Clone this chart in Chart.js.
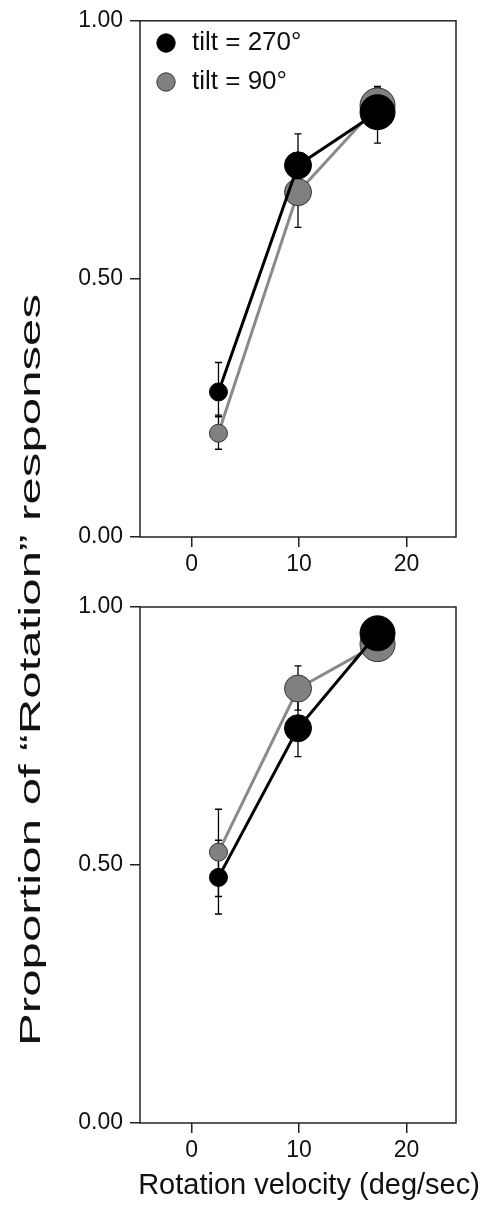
<!DOCTYPE html>
<html>
<head>
<meta charset="utf-8">
<script src="https://cdn.jsdelivr.net/npm/chart.js@4.4.0/dist/chart.umd.min.js"></script>
<style>
html, body { margin: 0; padding: 0; background: #fff; }
body { width: 483px; height: 1207px; position: relative; overflow: hidden; font-family: 'Liberation Sans', Arial, sans-serif; }
#topChart { position: absolute; left: 0; top: 0; }
#bottomChart { position: absolute; left: 0; top: 575px; }
#ylabel { position: absolute; left: 30px; top: 670px; transform: translate(-50%, -50%) rotate(-90deg) scaleX(1.64); white-space: nowrap; font-size: 30px; color: #111; }
#xlabel { position: absolute; left: 309px; top: 1184px; transform: translate(-50%, -50%); white-space: nowrap; font-size: 29px; color: #111; }
</style>
</head>
<body>
<canvas id="topChart" width="483" height="575"></canvas>
<canvas id="bottomChart" width="483" height="632"></canvas>
<div id="ylabel">Proportion of “Rotation” responses</div>
<div id="xlabel">Rotation velocity (deg/sec)</div>
<script>
const velocity = [2.5, 9.9, 17.3];
const seriesLabels = ['tilt = 270°', 'tilt = 90°'];
const xTicks = [0, 10, 20];
const yTicks = [0, 0.5, 1];

// upper panel
const upper270 = [0.281, 0.720, 0.823];
const upper270Lo = [0.233, 0.659, 0.763];
const upper270Hi = [0.338, 0.781, 0.870];
const upper90 = [0.201, 0.668, 0.836];
const upper90Lo = [0.170, 0.600, 0.800];
const upper90Hi = [0.236, 0.736, 0.873];

// lower panel
const lower270 = [0.476, 0.765, 0.949];
const lower270Lo = [0.405, 0.710, 0.920];
const lower270Hi = [0.548, 0.820, 0.978];
const lower90 = [0.525, 0.842, 0.928];
const lower90Lo = [0.439, 0.800, 0.900];
const lower90Hi = [0.608, 0.886, 0.955];

const markerRadius = [9, 13.5, 17.5];

const framePlugin = {
    id: 'frame',
    beforeDatasetsDraw(chart) {
        const a = chart.chartArea;
        const ctx = chart.ctx;
        ctx.save();
        ctx.strokeStyle = '#222';
        ctx.lineWidth = 1.5;
        ctx.strokeRect(a.left, a.top, a.right - a.left, a.bottom - a.top);
        ctx.restore();
    }
};

const errorBarPlugin = {
    id: 'errorBars',
    beforeDatasetsDraw(chart, args, opts) {
        const ctx = chart.ctx;
        const yScale = chart.scales.y;
        ctx.save();
        ctx.strokeStyle = '#000';
        ctx.lineWidth = 1.3;
        chart.data.datasets.forEach((ds, d) => {
            const meta = chart.getDatasetMeta(d);
            meta.data.forEach((pt, i) => {
                const top = yScale.getPixelForValue(opts.hi[d][i]);
                const bot = yScale.getPixelForValue(opts.lo[d][i]);
                ctx.beginPath();
                ctx.moveTo(pt.x, top);
                ctx.lineTo(pt.x, bot);
                ctx.moveTo(pt.x - 3.5, top);
                ctx.lineTo(pt.x + 3.5, top);
                ctx.moveTo(pt.x - 3.5, bot);
                ctx.lineTo(pt.x + 3.5, bot);
                ctx.stroke();
            });
        });
        ctx.restore();
    }
};

function points(values) {
    return velocity.map((v, i) => ({ x: v, y: values[i] }));
}

function makeChart(canvasId, s270, s90, lo, hi, showLegend, padTop, xHeight) {
    return new Chart(document.getElementById(canvasId), {
        type: 'line',
        data: {
            datasets: [{
                label: seriesLabels[0],
                data: points(s270),
                borderColor: '#000',
                borderWidth: 3,
                pointBackgroundColor: '#000',
                pointBorderColor: '#000',
                pointBorderWidth: 1,
                pointRadius: markerRadius,
                tension: 0
            }, {
                label: seriesLabels[1],
                data: points(s90),
                borderColor: '#8a8a8a',
                borderWidth: 3,
                pointBackgroundColor: '#808080',
                pointBorderColor: '#333',
                pointBorderWidth: 1,
                pointRadius: markerRadius,
                tension: 0
            }]
        },
        options: {
            responsive: false,
            animation: false,
            events: [],
            layout: { padding: { top: padTop, right: 27, left: 0, bottom: 0 } },
            scales: {
                x: {
                    type: 'linear',
                    min: -4.8,
                    max: 24.6,
                    afterBuildTicks: axis => { axis.ticks = xTicks.map(v => ({ value: v })); },
                    afterFit: axis => { axis.height = xHeight; },
                    ticks: { font: { size: 23, family: 'Liberation Sans' }, color: '#111', padding: 4, maxRotation: 0 },
                    grid: { drawOnChartArea: false, tickLength: 10, color: '#222', lineWidth: 1.5 },
                    border: { display: false }
                },
                y: {
                    type: 'linear',
                    min: 0,
                    max: 1,
                    afterBuildTicks: axis => { axis.ticks = yTicks.map(v => ({ value: v })); },
                    afterFit: axis => { axis.width = 140; },
                    ticks: { callback: v => v.toFixed(2), font: { size: 23, family: 'Liberation Sans' }, color: '#111', padding: 7 },
                    grid: { drawOnChartArea: false, tickLength: 10, color: '#222', lineWidth: 1.5 },
                    border: { display: false }
                }
            },
            plugins: {
                legend: {
                    display: showLegend,
                    position: 'chartArea',
                    align: 'start',
                    // empty title only pushes the entries down from the canvas top
                    title: { display: true, text: ' ', font: { size: 10 }, padding: { top: 5, bottom: 0 } },
                    labels: {
                        usePointStyle: true,
                        pointStyle: 'circle',
                        boxWidth: 26,
                        boxHeight: 13,
                        padding: 13,
                        color: '#111',
                        font: { size: 26, family: 'Liberation Sans' }
                    }
                },
                tooltip: { enabled: false },
                errorBars: { lo: lo, hi: hi }
            }
        },
        plugins: [framePlugin, errorBarPlugin]
    });
}

makeChart('topChart', upper270, upper90, [upper270Lo, upper90Lo], [upper270Hi, upper90Hi], true, 20, 38);
makeChart('bottomChart', lower270, lower90, [lower270Lo, lower90Lo], [lower270Hi, lower90Hi], false, 32, 84);
</script>
</body>
</html>
